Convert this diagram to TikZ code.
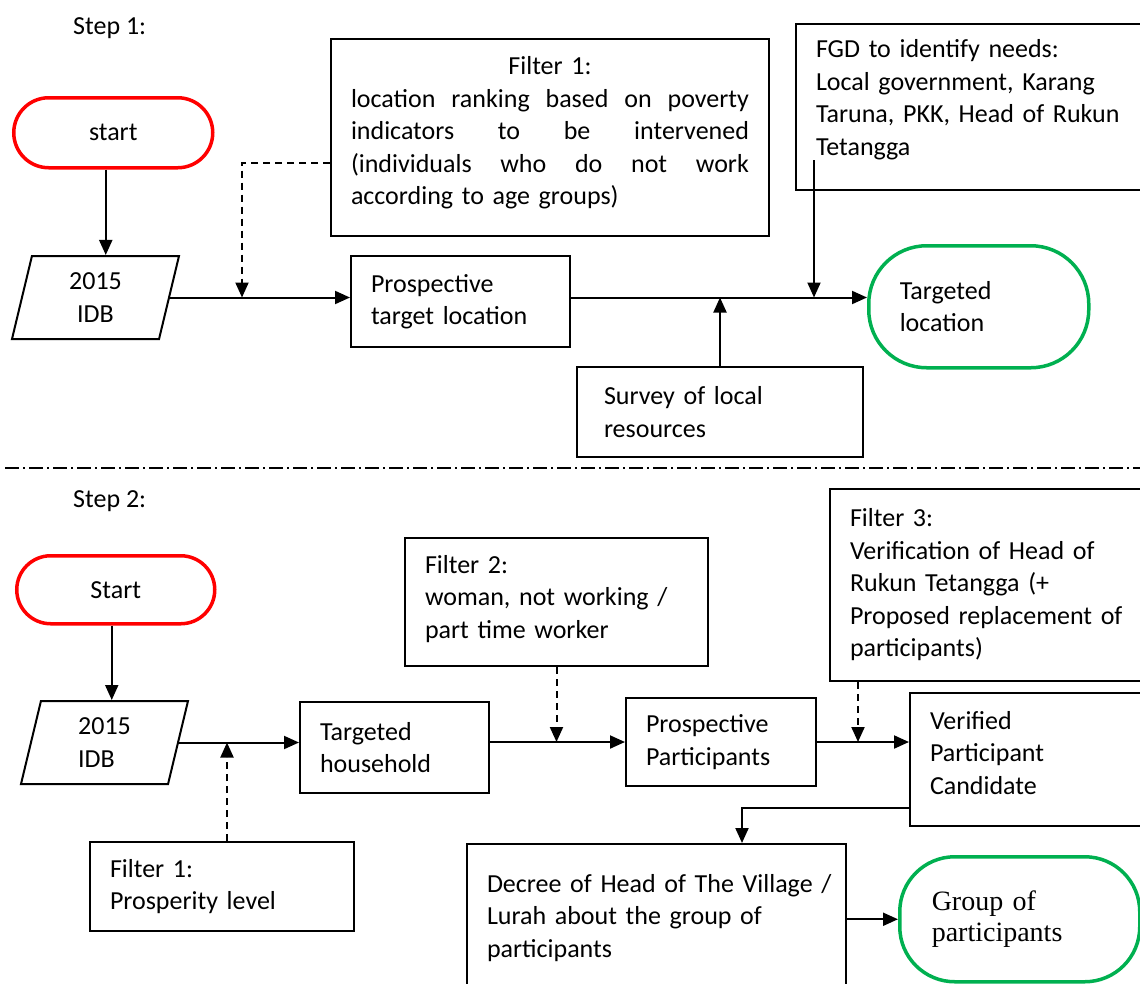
\documentclass[tikz,border=0pt]{standalone}
\usepackage{fontspec}
\setmainfont{Carlito}
\newfontfamily\gpfont{Liberation Serif}
\usetikzlibrary{arrows.meta,shapes.geometric}
\definecolor{tlgreen}{RGB}{0,176,80}
\definecolor{stred}{RGB}{255,0,0}
\newcommand\jline[1]{\makebox[398pt]{#1}}
\begin{document}
\begin{tikzpicture}[x=1pt,y=-1pt,
 txt/.style={font=\fontsize{26}{32.5}\selectfont},
 box/.style={txt, draw, line width=2pt, anchor=north west, align=left, inner xsep=20pt, inner ysep=0pt},
 term/.style={txt, draw, line width=3.5pt, anchor=north west, inner ysep=0pt},
 para/.style={txt, draw, line width=2pt, trapezium, trapezium left angle=68, trapezium right angle=112, trapezium stretches body, minimum width=167pt, minimum height=83pt, inner sep=0pt},
 arr/.style={line width=2pt, -{Triangle[length=15pt,width=13pt]}},
 darr/.style={arr, dash pattern=on 7pt off 5pt},
 sep/.style={line width=1.8pt, dash pattern=on 14pt off 4pt on 2pt off 4pt},
 lbl/.style={txt, anchor=base west, inner sep=0pt}]
\path[use as bounding box] (0,0) rectangle (1140,983);
\clip (0,0) rectangle (1140,983);

% ---------- Step 1 ----------
\node[lbl] (s1) at (73,34) {Step 1:};
\node[term, draw=stred, rounded corners=35pt, minimum width=199pt, minimum height=70pt, align=center] (start1) at (12,96) {start};
\node[para, align=center] (idb1) at (95.5,297.5) {2015\\IDB};
\node[box, minimum width=438pt, minimum height=197pt, text width=398pt, align=center, text depth=144pt] (f1) at (330,38)
 {Filter 1:\\
  \jline{location\hfill ranking\hfill based\hfill on\hfill poverty}\\
  \jline{indicators\hfill to\hfill be\hfill intervened}\\
  \jline{(individuals\hfill who\hfill do\hfill not\hfill work}\\
  \jline{according to age groups)\hfill}};
\node[box, minimum width=219pt, minimum height=91pt, text width=179pt] (ptl) at (350,255) {Prospective\\target location};
\node[box, minimum width=365pt, minimum height=166pt, text width=325pt, text depth=117pt] (fgd) at (795,23)
 {FGD to identify needs:\\Local government, Karang\\Taruna, PKK, Head of Rukun\\Tetangga};
\node[term, draw=tlgreen, rounded corners=58pt, minimum width=220pt, minimum height=122pt, text width=158pt, inner xsep=31pt, align=left] (tl) at (867,244) {Targeted\\location};
\node[box, minimum width=286pt, minimum height=90pt, text width=232pt, inner xsep=27pt] (surv) at (576,366) {Survey of local\\resources};
\coordinate (fgdin) at (814,160);

\draw[arr] ([xshift=-7.5pt]start1.south) -- ([xshift=-7.5pt]start1.south |- idb1.north);
\draw[arr] (idb1.east) -- (idb1.east -| ptl.west);
\draw[darr] ([yshift=-25pt]f1.west) -| (242,297.5);
\draw[arr] (ptl.east |- idb1.east) -- (idb1.east -| tl.west);
\draw[arr] (surv.north) -- (surv.north |- idb1.east);
\draw[arr] (fgdin) -- (fgdin |- idb1.east);

% separator
\draw[sep] (5,468) -- (1140,468);

% ---------- Step 2 ----------
\node[lbl] (s2) at (73,507) {Step 2:};
\node[term, draw=stred, rounded corners=34pt, minimum width=198pt, minimum height=68pt, align=center] (start2) at (15,554) {Start};
\node[para, align=left, xshift=-3pt] (idb2) at (107.5,742.5) {2015\\IDB\hspace*{16pt}};
\node[box, minimum width=264pt, minimum height=89pt, text width=224pt] (f1b) at (89,841) {Filter 1:\\Prosperity level};
\node[box, minimum width=189pt, minimum height=91pt, text width=149pt] (th) at (299,701) {Targeted\\household};
\node[box, minimum width=303pt, minimum height=128pt, text width=263pt, text depth=75.5pt] (f2) at (404,537) {Filter 2:\\woman, not working /\\part time worker};
\node[box, minimum width=190pt, minimum height=88pt, text width=150pt] (pp) at (625,697) {Prospective\\Participants};
\node[box, minimum width=340pt, minimum height=192pt, text width=300pt] (f3) at (829,488)
 {Filter 3:\\Verification of Head of\\Rukun Tetangga (+\\Proposed replacement of\\participants)};
\node[box, minimum width=250pt, minimum height=133pt, text width=210pt, text depth=79pt] (ver) at (909,692) {Verified\\Participant\\Candidate};
\node[box, minimum width=379pt, minimum height=148pt, text width=339pt] (dec) at (466,843)
 {\mbox{Decree of Head of The Village /}\\\mbox{Lurah about the group of}\\participants};
\node[term, draw=tlgreen, rounded corners=55pt, minimum width=240pt, minimum height=125pt, text width=176pt, inner xsep=32pt, align=left, font=\gpfont\fontsize{28}{31}\selectfont] (gp) at (898,855) {Group of\\participants};

\draw[arr] ([xshift=-4pt]start2.south) -- ([xshift=-4pt]start2.south |- idb2.north);
\draw[arr] (idb2.east) -- (idb2.east -| th.west);
\draw[darr] ([xshift=5pt]f1b.north) -- ([xshift=5pt]f1b.north |- idb2.east);
\draw[arr] (th.east |- pp.west) -- (pp.west);
\draw[darr] (f2.south) -- (f2.south |- pp.west);
\draw[arr] (pp.east) -- (pp.east -| ver.west);
\draw[darr] ([xshift=29pt]f3.south west) -- ([xshift=29pt]f3.south west |- pp.east);
\draw[arr] ([yshift=-48.5pt]ver.west) -| ([xshift=85.5pt]dec.north);
\draw[arr] (dec.east |- gp.west) -- (gp.west);
\end{tikzpicture}
\end{document}
